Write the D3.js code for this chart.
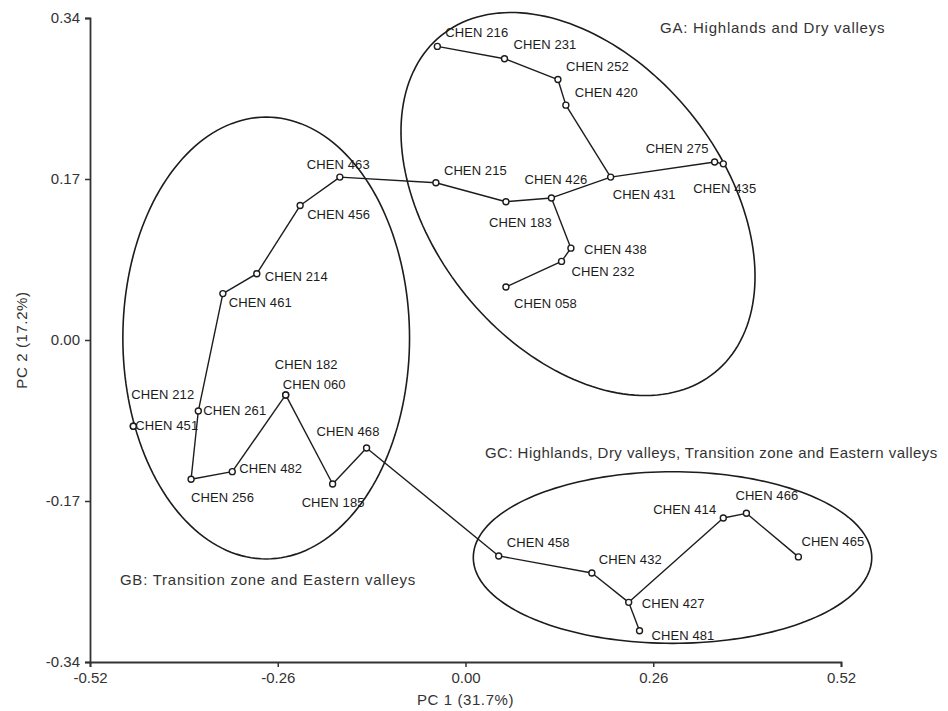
<!DOCTYPE html>
<html>
<head>
<meta charset="utf-8">
<script src="https://cdn.jsdelivr.net/npm/d3@7"></script>
<style>
  html, body { margin: 0; padding: 0; background: #fff; }
  svg { display: block; }
  text { font-family: "Liberation Sans", Arial, sans-serif; }
</style>
</head>
<body>
<svg id="chart" width="948" height="711"></svg>
<script>
// ---------------- DATA ----------------
const sampleIds = [
  "CHEN 216","CHEN 231","CHEN 252","CHEN 420","CHEN 431","CHEN 275","CHEN 435",
  "CHEN 426","CHEN 183","CHEN 215","CHEN 438","CHEN 232","CHEN 058",
  "CHEN 463","CHEN 456","CHEN 214","CHEN 461","CHEN 261","CHEN 451","CHEN 212",
  "CHEN 256","CHEN 482","CHEN 060","CHEN 182","CHEN 185","CHEN 468",
  "CHEN 458","CHEN 432","CHEN 427","CHEN 481","CHEN 414","CHEN 466","CHEN 465"
];
const pc1Values = [
  -0.039, 0.054, 0.128, 0.139, 0.201, 0.345, 0.357,
   0.119, 0.056, -0.041, 0.146, 0.133, 0.056,
  -0.174, -0.229, -0.289, -0.336, -0.370, -0.460, -0.460,
  -0.380, -0.323, -0.249, -0.249, -0.184, -0.137,
   0.046, 0.175, 0.226, 0.241, 0.357, 0.389, 0.461
];
const pc2Values = [
   0.310, 0.297, 0.275, 0.248, 0.172, 0.188, 0.186,
   0.150, 0.146, 0.166, 0.097, 0.083, 0.056,
   0.172, 0.142, 0.070, 0.049, -0.075, -0.091, -0.091,
  -0.147, -0.139, -0.058, -0.058, -0.152, -0.114,
  -0.228, -0.246, -0.277, -0.307, -0.188, -0.183, -0.229
];
// minimum spanning tree links
const mstEdges = [
  ["CHEN 216","CHEN 231"],["CHEN 231","CHEN 252"],["CHEN 252","CHEN 420"],
  ["CHEN 420","CHEN 431"],["CHEN 431","CHEN 275"],["CHEN 275","CHEN 435"],
  ["CHEN 431","CHEN 426"],["CHEN 426","CHEN 183"],["CHEN 183","CHEN 215"],
  ["CHEN 215","CHEN 463"],["CHEN 426","CHEN 438"],["CHEN 438","CHEN 232"],
  ["CHEN 232","CHEN 058"],
  ["CHEN 463","CHEN 456"],["CHEN 456","CHEN 214"],["CHEN 214","CHEN 461"],
  ["CHEN 461","CHEN 261"],["CHEN 261","CHEN 256"],["CHEN 256","CHEN 482"],
  ["CHEN 482","CHEN 060"],["CHEN 060","CHEN 185"],["CHEN 185","CHEN 468"],
  ["CHEN 468","CHEN 458"],
  ["CHEN 458","CHEN 432"],["CHEN 432","CHEN 427"],["CHEN 427","CHEN 481"],
  ["CHEN 427","CHEN 414"],["CHEN 414","CHEN 466"],["CHEN 466","CHEN 465"]
];
const xTicks = [-0.52, -0.26, 0.00, 0.26, 0.52];
const yTicks = [-0.34, -0.17, 0.00, 0.17, 0.34];
const xTitle = "PC 1 (31.7%)";
const yTitle = "PC 2 (17.2%)";

// group ellipses (data units): centre and two conjugate half-axis vectors
const groupNames   = ["GA", "GB", "GC"];
const groupTexts   = [
  "GA: Highlands and Dry valleys",
  "GB: Transition zone and Eastern valleys",
  "GC: Highlands, Dry valleys, Transition zone and Eastern valleys"
];
const groupCenterX = [0.1558, -0.2760, 0.2867];
const groupCenterY = [0.1436, 0.0021, -0.2297];
const groupAxisU   = [[0.1896, -0.1778], [0.1985, 0], [0.2759, 0]];
const groupAxisV   = [[-0.1554, -0.0963], [0, 0.2333], [0, 0.0906]];
const groupTextX   = [0.2694, -0.4785, 0.0270];
const groupTextY   = [0.3241, -0.2587, -0.1249];
const groupTextSpacing = [0.75, 0.75, 0.45];

// ---------------- LAYOUT (label offsets in px) ----------------
const labelOffsets = {
  "CHEN 216":[8,-9],  "CHEN 231":[9,-10], "CHEN 252":[8,-9],  "CHEN 420":[9,-8],
  "CHEN 431":[2,22],  "CHEN 275":[-69,-9],"CHEN 435":[-30,29],"CHEN 426":[-27,-14],
  "CHEN 183":[-17,25],"CHEN 215":[8,-8],  "CHEN 438":[13,6],  "CHEN 232":[10,15],
  "CHEN 058":[8,21],  "CHEN 463":[-33,-8],"CHEN 456":[7,13],  "CHEN 214":[8,7],
  "CHEN 461":[6,13],  "CHEN 261":[5,4],   "CHEN 451":[2,4],   "CHEN 212":[-2,-27],
  "CHEN 256":[0,23],  "CHEN 482":[7,1],   "CHEN 060":[-3,-6], "CHEN 182":[-11,-26],
  "CHEN 185":[-31,23],"CHEN 468":[-50,-12],"CHEN 458":[8,-9], "CHEN 432":[7,-9],
  "CHEN 427":[13,6],  "CHEN 481":[12,9],  "CHEN 414":[-70,-4],"CHEN 466":[-11,-13],
  "CHEN 465":[3,-11]
};

// ---------------- CHART ----------------
const svg = d3.select("#chart");
svg.append("rect").attr("width", 948).attr("height", 711).attr("fill", "#fff");

const x = d3.scaleLinear().domain([-0.52, 0.52]).range([90, 841]);
const y = d3.scaleLinear().domain([-0.34, 0.34]).range([662, 18]);

const pts = sampleIds.map((id, i) => ({ id, x: pc1Values[i], y: pc2Values[i] }));
const byId = new Map(pts.map(p => [p.id, p]));

const ink = "#1c1c1c";

// ellipses
const ell = groupNames.map((g, i) => {
  return d3.range(0, 181).map(k => {
    const t = k / 180 * 2 * Math.PI;
    return [
      groupCenterX[i] + Math.cos(t) * groupAxisU[i][0] + Math.sin(t) * groupAxisV[i][0],
      groupCenterY[i] + Math.cos(t) * groupAxisU[i][1] + Math.sin(t) * groupAxisV[i][1]
    ];
  });
});
const lineGen = d3.line().x(d => x(d[0])).y(d => y(d[1])).curve(d3.curveLinearClosed);
svg.append("g").selectAll("path").data(ell).join("path")
  .attr("d", lineGen).attr("fill", "none").attr("stroke", ink).attr("stroke-width", 1.6);

// edges
svg.append("g").selectAll("line").data(mstEdges).join("line")
  .attr("x1", d => x(byId.get(d[0]).x)).attr("y1", d => y(byId.get(d[0]).y))
  .attr("x2", d => x(byId.get(d[1]).x)).attr("y2", d => y(byId.get(d[1]).y))
  .attr("stroke", ink).attr("stroke-width", 1.4);

// points
svg.append("g").selectAll("circle").data(pts).join("circle")
  .attr("cx", d => x(d.x)).attr("cy", d => y(d.y)).attr("r", 3)
  .attr("fill", "#fff").attr("stroke", ink).attr("stroke-width", 1.4);

// point labels
svg.append("g").selectAll("text").data(pts).join("text")
  .attr("x", d => x(d.x) + labelOffsets[d.id][0])
  .attr("y", d => y(d.y) + labelOffsets[d.id][1])
  .attr("font-size", 13).attr("letter-spacing", 0.1).attr("fill", ink)
  .text(d => d.id);

// group annotations
svg.append("g").selectAll("text").data(groupTexts).join("text")
  .attr("x", (d, i) => x(groupTextX[i]))
  .attr("y", (d, i) => y(groupTextY[i]))
  .attr("font-size", 15).attr("letter-spacing", (d, i) => groupTextSpacing[i]).attr("fill", "#333")
  .text(d => d);

// axes
const fmt = d => d.toFixed(2);
const xAxis = svg.append("g").attr("transform", "translate(0,662)")
  .call(d3.axisBottom(x).tickValues(xTicks).tickFormat(fmt).tickSize(5).tickPadding(5));
const yAxis = svg.append("g").attr("transform", "translate(90,0)")
  .call(d3.axisLeft(y).tickValues(yTicks).tickFormat(fmt).tickSize(5).tickPadding(5));
[xAxis, yAxis].forEach(a => {
  a.select(".domain").attr("stroke", "#333").attr("stroke-width", 1.8);
  a.selectAll(".tick line").attr("stroke", "#333").attr("stroke-width", 1.5);
  a.selectAll(".tick text").attr("font-size", 15).attr("fill", "#333")
    .attr("font-family", "Liberation Sans, Arial, sans-serif");
});

svg.append("text").attr("x", (x(-0.52) + x(0.52)) / 2).attr("y", 705)
  .attr("text-anchor", "middle").attr("font-size", 15).attr("letter-spacing", 0.6)
  .attr("fill", "#333").text(xTitle);
svg.append("text")
  .attr("transform", `translate(27,${(y(-0.34) + y(0.34)) / 2}) rotate(-90)`)
  .attr("text-anchor", "middle").attr("font-size", 15).attr("letter-spacing", 0.6)
  .attr("fill", "#333").text(yTitle);
</script>
</body>
</html>
